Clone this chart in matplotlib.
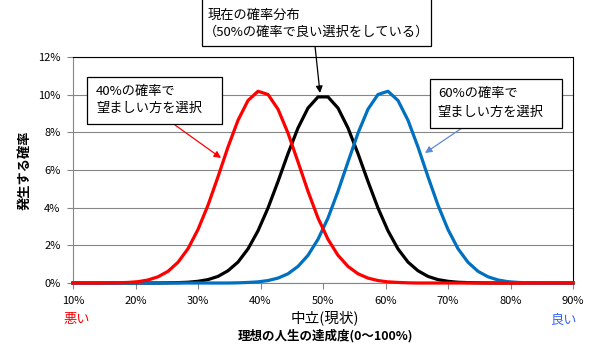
import matplotlib
matplotlib.use('Agg')
import matplotlib.pyplot as plt
from matplotlib.patches import Rectangle

plt.rcParams['font.family'] = ['Noto Sans CJK JP', 'DejaVu Sans']

# achievement level [%] (shared x for all three curves)
x_pct = [10.0, 10.8, 12.4, 14.0, 15.6, 17.2, 18.8, 20.4, 22.0, 23.6,
         25.2, 26.8, 28.4, 30.0, 31.6, 33.2, 34.8, 36.4, 38.0, 39.6,
         41.2, 42.8, 44.4, 46.0, 47.6, 49.2, 50.8, 52.4, 54.0, 55.6,
         57.2, 58.8, 60.4, 62.0, 63.6, 65.2, 66.8, 68.4, 70.0, 71.6,
         73.2, 74.8, 76.4, 78.0, 79.6, 81.2, 82.8, 84.4, 86.0, 87.6,
         89.2, 90.0]

# 40% curve (red)
p40 = [0, 0, 0, 0, 0.0001, 0.0001, 0.0003, 0.0007, 0.0016, 0.0033,
       0.0062, 0.0110, 0.0182, 0.0284, 0.0413, 0.0564, 0.0722, 0.0864, 0.0969, 0.1018,
       0.1001, 0.0923, 0.0796, 0.0643, 0.0487, 0.0345, 0.0232, 0.0147, 0.0088, 0.0049,
       0.0026, 0.0013, 0.0006, 0.0003, 0.0001, 0, 0, 0, 0, 0,
       0, 0, 0, 0, 0, 0, 0, 0, 0, 0,
       0, 0]

# 50% curve (black)
p50 = [0, 0, 0, 0, 0, 0, 0, 0, 0, 0,
       0.0001, 0.0002, 0.0004, 0.0009, 0.0018, 0.0035, 0.0065, 0.0111, 0.0181, 0.0277,
       0.0398, 0.0539, 0.0687, 0.0823, 0.0929, 0.0988, 0.0988, 0.0929, 0.0823, 0.0687,
       0.0539, 0.0398, 0.0277, 0.0181, 0.0111, 0.0065, 0.0035, 0.0018, 0.0009, 0.0004,
       0.0002, 0.0001, 0, 0, 0, 0, 0, 0, 0, 0,
       0, 0]

# 60% curve (blue)
p60 = [0, 0, 0, 0, 0, 0, 0, 0, 0, 0,
       0, 0, 0, 0, 0, 0, 0, 0.0001, 0.0003, 0.0006,
       0.0013, 0.0026, 0.0049, 0.0088, 0.0147, 0.0232, 0.0345, 0.0487, 0.0643, 0.0796,
       0.0923, 0.1001, 0.1018, 0.0969, 0.0864, 0.0722, 0.0564, 0.0413, 0.0284, 0.0182,
       0.0110, 0.0062, 0.0033, 0.0016, 0.0007, 0.0003, 0.0001, 0.0001, 0, 0,
       0, 0]

xticks = [10, 20, 30, 40, 50, 60, 70, 80, 90]
xticklabels = ['10%', '20%', '30%', '40%', '50%', '60%', '70%', '80%', '90%']
yticks = [0, 0.02, 0.04, 0.06, 0.08, 0.10, 0.12]
yticklabels = ['0%', '2%', '4%', '6%', '8%', '10%', '12%']

W, H = 594, 360
fig = plt.figure(figsize=(W/100, H/100), dpi=100)
ax = fig.add_axes([73/W, 1-283/H, 500/W, 226/H])

gray = '#868686'
ax.plot(x_pct, p50, color='black', lw=2.3, zorder=3, clip_on=False)
ax.plot(x_pct, p60, color='#0070C0', lw=2.3, zorder=4, clip_on=False)
ax.plot(x_pct, p40, color='#FF0000', lw=2.3, zorder=5, clip_on=False)

ax.set_xlim(10, 90)
ax.set_ylim(0, 0.12)
ax.set_xticks(xticks)
ax.set_xticklabels(xticklabels, fontsize=8)
ax.set_yticks(yticks)
ax.set_yticklabels(yticklabels, fontsize=8)
ax.tick_params(axis='both', direction='out', length=4, width=0.8, color=gray, pad=5)
ax.yaxis.grid(True, color=gray, lw=0.8)
ax.set_axisbelow(True)
for s in ['left', 'bottom']:
    ax.spines[s].set_color(gray)
    ax.spines[s].set_linewidth(0.8)
for s in ['top', 'right']:
    ax.spines[s].set_color('black')
    ax.spines[s].set_linewidth(0.8)

# axis titles / side labels (figure pixel positions)
def ftext(x, y, s, **kw):
    fig.text(x/W, 1-y/H, s, **kw)

ftext(25, 170, '発生する確率', rotation=90, ha='center', va='center', fontsize=9.5, fontweight='bold')
ftext(63, 320, '悪い', ha='left', va='center', fontsize=9.5, color='#FF0000')
ftext(577, 320, '良い', ha='right', va='center', fontsize=9.5, color='#3366FF')
ftext(325, 318, '中立(現状)', ha='center', va='center', fontsize=10.5)
ftext(325, 336, '理想の人生の達成度(0～100%)', ha='center', va='center', fontsize=9, fontweight='bold')

# callout boxes
def box(x0, y0, x1, y1):
    fig.patches.append(Rectangle((x0/W, 1-y1/H), (x1-x0)/W, (y1-y0)/H,
                                 transform=fig.transFigure, fill=True, facecolor='white',
                                 edgecolor='black', lw=0.9, zorder=10))

box(202, -2, 431, 46)
ftext(208, 15, '現在の確率分布', ha='left', va='center', fontsize=9.5, zorder=11)
ftext(204, 32, '（50%の確率で良い選択をしている）', ha='left', va='center', fontsize=9.5, zorder=11)

box(87, 77, 222, 124)
ftext(96, 91, '40%の確率で', ha='left', va='center', fontsize=9.5, zorder=11)
ftext(96, 108, '望ましい方を選択', ha='left', va='center', fontsize=9.5, zorder=11)

box(430, 79, 562, 128)
ftext(438, 94, '60%の確率で', ha='left', va='center', fontsize=9.5, zorder=11)
ftext(438, 112, '望ましい方を選択', ha='left', va='center', fontsize=9.5, zorder=11)

# arrows
def arrow(x0, y0, x1, y1, c):
    ax.annotate('', xy=(x1, H-y1), xycoords='figure pixels',
                xytext=(x0, H-y0), textcoords='figure pixels',
                arrowprops=dict(arrowstyle='-|>', color=c, lw=0.9, mutation_scale=10,
                                shrinkA=0, shrinkB=0), zorder=9, annotation_clip=False)

arrow(315, 46, 320, 93, 'black')
arrow(175, 125, 221, 158, '#FF0000')
arrow(462, 128, 425, 153, '#5B8BD0')

fig.savefig('out.png', dpi=100)
